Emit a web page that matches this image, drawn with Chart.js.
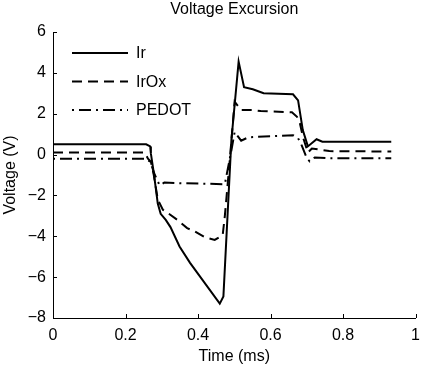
<!DOCTYPE html>
<html>
<head>
<meta charset="utf-8">
<script src="https://cdn.jsdelivr.net/npm/chart.js@4"></script>
<style>
  html, body { margin: 0; padding: 0; background: #fff; }
  #wrap { width: 428px; height: 373px; }
</style>
</head>
<body>
<div id="wrap"><canvas id="chart"></canvas></div>
<script>
'use strict';

const TITLE = 'Voltage Excursion';
const SERIES_NAMES = ['Ir', 'IrOx', 'PEDOT'];

// time in ms, voltage in V
const irTime = [0, 0.257, 0.268, 0.27, 0.278, 0.289, 0.297, 0.311, 0.324, 0.349, 0.378, 0.46, 0.47, 0.492, 0.512, 0.527, 0.551, 0.581, 0.662, 0.676, 0.689, 0.703, 0.727, 0.743, 0.933];
const irVolt = [0.5, 0.5, 0.4, 0.05, -0.9, -2.4, -2.9, -3.2, -3.55, -4.5, -5.3, -7.3, -6.95, 0.7, 4.55, 3.3, 3.2, 3.0, 2.95, 2.65, 1.2, 0.4, 0.75, 0.63, 0.63];

const irOxTime = [0, 0.253, 0.262, 0.27, 0.278, 0.289, 0.303, 0.316, 0.343, 0.37, 0.392, 0.419, 0.446, 0.468, 0.474, 0.478, 0.486, 0.501, 0.519, 0.546, 0.573, 0.659, 0.673, 0.681, 0.689, 0.703, 0.714, 0.762, 0.933];
const irOxVolt = [0.1, 0.1, -0.2, -0.35, -1.0, -2.2, -2.7, -2.85, -3.2, -3.6, -3.77, -4.05, -4.18, -3.95, -3.0, -2.2, -0.6, 2.59, 2.18, 2.18, 2.13, 2.07, 1.85, 1.53, 0.88, 0.1, 0.3, 0.17, 0.15];

const pedotTime = [0, 0.257, 0.268, 0.281, 0.294, 0.307, 0.349, 0.474, 0.481, 0.492, 0.501, 0.519, 0.538, 0.565, 0.662, 0.676, 0.686, 0.7, 0.708, 0.722, 0.757, 0.933];
const pedotVolt = [-0.2, -0.2, -0.35, -1.0, -1.5, -1.37, -1.4, -1.45, -0.8, 0.2, 1.1, 0.68, 0.84, 0.87, 0.95, 0.8, 0.45, -0.18, -0.33, -0.14, -0.18, -0.18];

const xTicks = [0, 0.2, 0.4, 0.6, 0.8, 1];
const yTicks = [-8, -6, -4, -2, 0, 2, 4, 6];

const FONT = '"Liberation Sans", Arial, Helvetica, sans-serif';
const INK = '#000';

const toPoints = (xs, ys) => xs.map((x, i) => ({ x, y: ys[i] }));
const fmt = (v) => String(v).replace('-', '\u2212');

// inward tick marks, title and in-plot legend
const decorations = {
  id: 'decorations',
  afterDraw(chart) {
    const { ctx, chartArea: area, scales } = chart;
    ctx.save();
    ctx.strokeStyle = INK;
    ctx.lineWidth = 1;
    ctx.beginPath();
    xTicks.forEach((t) => {
      const px = Math.round(scales.x.getPixelForValue(t)) + 0.5;
      ctx.moveTo(px, area.bottom);
      ctx.lineTo(px, area.bottom - 4);
    });
    yTicks.forEach((t) => {
      const py = Math.round(scales.y.getPixelForValue(t)) + 0.5;
      ctx.moveTo(area.left, py);
      ctx.lineTo(area.left + 4, py);
    });
    ctx.stroke();

    ctx.fillStyle = INK;
    ctx.font = '16px ' + FONT;
    ctx.textAlign = 'center';
    ctx.textBaseline = 'middle';
    ctx.fillText(TITLE, (area.left + area.right) / 2, 10);

    ctx.textAlign = 'left';
    chart.data.datasets.forEach((ds, i) => {
      const y = 53 + i * 28.5;
      ctx.beginPath();
      ctx.setLineDash(ds.borderDash || []);
      ctx.lineWidth = ds.borderWidth;
      ctx.moveTo(72, y);
      ctx.lineTo(128, y);
      ctx.stroke();
      ctx.setLineDash([]);
      ctx.fillText(ds.label, 136, y + 1);
    });
    ctx.restore();
  },
};

const lineStyle = {
  borderColor: INK,
  borderWidth: 2,
  pointRadius: 0,
  tension: 0,
  fill: false,
};

new Chart(document.getElementById('chart'), {
  type: 'line',
  data: {
    datasets: [
      { label: SERIES_NAMES[0], data: toPoints(irTime, irVolt), ...lineStyle },
      { label: SERIES_NAMES[1], data: toPoints(irOxTime, irOxVolt), ...lineStyle, borderDash: [10, 6] },
      { label: SERIES_NAMES[2], data: toPoints(pedotTime, pedotVolt), ...lineStyle, borderDash: [2, 5, 12, 5] },
    ],
  },
  options: {
    responsive: true,
    maintainAspectRatio: false,
    animation: false,
    layout: { padding: { top: 32, right: 5, left: 0, bottom: 0 } },
    plugins: {
      legend: { display: false },
      title: { display: false },
      tooltip: { enabled: false },
    },
    scales: {
      x: {
        type: 'linear',
        min: 0,
        max: 1,
        afterBuildTicks: (scale) => { scale.ticks = xTicks.map((value) => ({ value })); },
        afterFit: (scale) => { scale.height = 55; },
        grid: { display: false, drawTicks: false },
        border: { display: true, color: INK, width: 1 },
        ticks: {
          color: INK,
          padding: 8,
          maxRotation: 0,
          font: { family: FONT, size: 16 },
          callback: (v) => fmt(v),
        },
        title: {
          display: true,
          text: 'Time (ms)',
          color: INK,
          font: { family: FONT, size: 16 },
          padding: { top: 0, bottom: 7 },
        },
      },
      y: {
        type: 'linear',
        min: -8,
        max: 6,
        afterBuildTicks: (scale) => { scale.ticks = yTicks.map((value) => ({ value })); },
        afterFit: (scale) => { scale.width = 53; },
        grid: { display: false, drawTicks: false },
        border: { display: true, color: INK, width: 1 },
        ticks: {
          color: INK,
          padding: 7,
          font: { family: FONT, size: 16 },
          callback: (v) => fmt(v),
        },
        title: {
          display: true,
          text: 'Voltage (V)',
          color: INK,
          font: { family: FONT, size: 16 },
          padding: { top: 1, bottom: 0 },
        },
      },
    },
  },
  plugins: [decorations],
});
</script>
</body>
</html>
